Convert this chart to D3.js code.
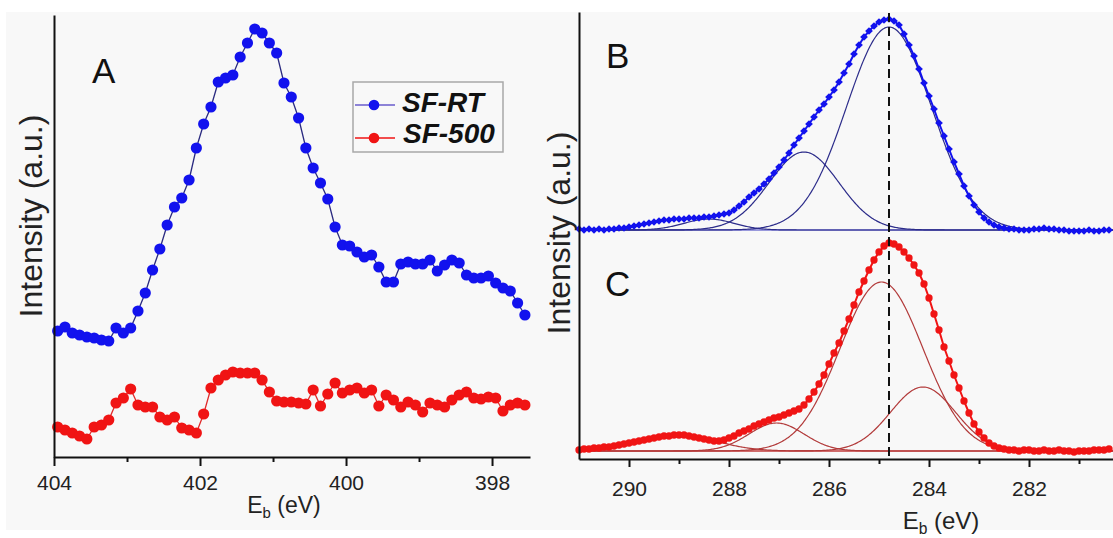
<!DOCTYPE html>
<html>
<head>
<meta charset="utf-8">
<script src="https://cdn.jsdelivr.net/npm/d3@7"></script>
<style>
    body { margin: 0; background: #fff; }
    svg { display: block; font-family: "Liberation Sans", Arial, sans-serif; }
</style>
</head>
<body>
<div class="xps"></div>
<script>
// ---- panel A : N 1s, one point every 0.1 eV from 403.95 eV ----
let nStart = 403.95, nStep = 0.1
let nSFRT = [126, 130, 124, 122, 120, 119, 117, 116, 129, 124, 129, 146, 164, 187, 208, 232, 250, 259, 277, 309,
    333, 350, 375, 379, 382, 400, 414, 428, 424, 414, 404, 374, 360, 339, 309, 289, 274, 258, 230, 212,
    211, 205, 200, 202, 190, 175, 175, 193, 195, 193, 193, 197, 186, 192, 197, 194, 182, 179, 179, 181,
    174, 169, 166, 154, 142]
let nSF500 = [30, 27, 24, 21, 18, 30, 32, 37, 54, 59, 68, 52, 50, 50, 40, 37, 40, 29, 27, 24,
    43, 69, 77, 82, 85, 84, 84, 84, 77, 65, 56, 55, 55, 54, 53, 67, 51, 63, 74, 64,
    67, 69, 64, 67, 51, 62, 57, 50, 55, 52, 45, 54, 52, 50, 57, 62, 65, 59, 58, 60,
    59, 46, 52, 54, 52]

// ---- panels B, C : C 1s, one point every 0.1 eV from 291.0 eV ----
let cStart = 291.0, cStep = 0.1
let cSFRT = [1, 0, 1, 0, 1, 0, 1, 1, 2, 2, 3, 4, 5, 6, 7, 8, 9, 10, 10, 11,
    11, 11, 12, 12, 12, 13, 13, 14, 15, 16, 17, 20, 24, 28, 33, 37, 41, 46, 51, 57,
    63, 70, 77, 85, 92, 99, 106, 113, 120, 126, 133, 140, 148, 157, 166, 176, 185, 193, 199, 204,
    208, 210, 211, 209, 205, 196, 185, 174, 161, 147, 134, 121, 107, 94, 81, 68, 56, 44, 34, 25,
    18, 12, 8, 5, 3, 2, 1, 1, 0, 0, 0, 1, 1, 2, 1, 1, 0, 0, -1, -1,
    -1, -1, 0, -1, -1, 0, 0]
let cSF500 = [1, 2, 2, 3, 3, 4, 4, 5, 6, 7, 8, 9, 10, 11, 12, 13, 14, 15, 15, 16,
    16, 16, 15, 14, 13, 12, 11, 10, 10, 11, 13, 15, 18, 20, 22, 25, 27, 29, 31, 33,
    34, 36, 38, 40, 42, 46, 52, 59, 67, 76, 87, 98, 108, 120, 132, 146, 159, 170, 181, 191,
    199, 205, 208, 207, 204, 199, 193, 186, 178, 167, 153, 137, 121, 104, 90, 76, 63, 50, 38, 27,
    19, 13, 8, 5, 3, 2, 1, 1, 0, 1, 1, 0, 0, 1, 0, 0, 1, 0, 0, -1,
    0, 0, 0, 1, 1, 1, 2]

// fitted components: centre (eV), height, sigma (eV)
let fitRTCenter = [288.4, 286.5, 284.8],
    fitRTHeight = [11, 78, 203],
    fitRTSigma = [0.5, 0.7, 0.85]
let fit500Center = [289.0, 287.05, 284.95, 284.12],
    fit500Height = [16, 28, 169, 64],
    fit500Sigma = [0.75, 0.55, 0.83, 0.65]
let refEnergy = 284.8

let ticksA = [404, 402, 400, 398], minorA = [403, 401, 399]
let ticksBC = [290, 288, 286, 284, 282], minorBC = [289, 287, 285, 283, 281]
let seriesNames = ["SF-RT", "SF-500"]

let blue = "#1212ee", red = "#f01414"
let width = 1113, height = 538

let svg = d3.select(".xps")
    .append("svg")
    .attr("width", width)
    .attr("height", height)
svg.append("rect")
    .attr("x", 6).attr("y", 12)
    .attr("width", width - 6).attr("height", 518)
    .attr("fill", "#f8f8f8")

//===================== panel A =====================
let xA = d3.scaleLinear().domain([404, 397.48]).range([54, 530])
let yA = d3.scaleLinear().domain([0, 442]).range([457, 15])
let nPoints = (arr) => arr.map((v, i) => [nStart - nStep * i, v])

let gA = svg.append("g")
let lineA = d3.line().x(d => xA(d[0])).y(d => yA(d[1]))
;[[nSF500, red, "#e02a2a"], [nSFRT, blue, "#2a2a80"]].forEach(([arr, col, lcol]) => {
    gA.append("path")
        .datum(nPoints(arr))
        .attr("d", lineA)
        .attr("fill", "none")
        .attr("stroke", lcol)
        .attr("stroke-width", 1.3)
    gA.append("g")
        .selectAll("circle")
        .data(nPoints(arr))
        .enter()
        .append("circle")
        .attr("cx", d => xA(d[0]))
        .attr("cy", d => yA(d[1]))
        .attr("r", 5.6)
        .attr("fill", col)
})

// axes
let axA = gA.append("g").attr("transform", "translate(0,457)")
axA.call(d3.axisBottom(xA).tickValues(ticksA).tickSize(9).tickSizeOuter(0).tickPadding(9).tickFormat(d3.format("d")))
axA.append("g").call(d3.axisBottom(xA).tickValues(minorA).tickSize(5).tickFormat(""))
    .select(".domain").remove()
gA.append("g").attr("transform", "translate(54,0)")
    .call(d3.axisLeft(yA).tickValues([]).tickSizeOuter(0))

// legend
let legend = gA.append("g")
legend.append("rect")
    .attr("x", 353).attr("y", 82).attr("width", 150).attr("height", 70)
    .attr("fill", "#f8f8f8").attr("stroke", "#a8a8a8").attr("stroke-width", 1.5)
seriesNames.forEach((name, i) => {
    let ly = 105 + 33 * i
    legend.append("line")
        .attr("x1", 355).attr("x2", 395).attr("y1", ly).attr("y2", ly)
        .attr("stroke", i == 0 ? "#6a5ccc" : red).attr("stroke-width", 1.5)
    legend.append("circle")
        .attr("cx", 374).attr("cy", ly).attr("r", 5.3)
        .attr("fill", i == 0 ? blue : red)
    legend.append("text")
        .attr("x", 402 + i).attr("y", ly + 7 - 2 * i)
        .attr("font-size", 28).attr("font-weight", "bold").attr("font-style", "italic")
        .attr("fill", "#111")
        .text(name)
})

//===================== panels B / C =====================
let xBC = d3.scaleLinear().domain([291, 280.3]).range([579, 1114])
let yB = d3.scaleLinear().domain([0, 218]).range([230, 12])
let yC = d3.scaleLinear().domain([0, 218]).range([451, 233])
let yFrame = d3.scaleLinear().domain([0, 1]).range([459, 12])
let cPoints = (arr) => arr.map((v, i) => [cStart - cStep * i, v])
let fitE = d3.range(291, 280.29, -0.02)
function gauss(e, c, h, s) {
    return h * Math.exp(-(e - c) * (e - c) / (2 * s * s))
}

let gBC = svg.append("g")
function drawPanel(data, y, centers, heights, sigmas, col, fitCol, baseCol, marker) {
    let g = gBC.append("g")
    // baseline
    g.append("line")
        .attr("x1", xBC(291)).attr("x2", xBC(280.3))
        .attr("y1", y(0)).attr("y2", y(0))
        .attr("stroke", baseCol).attr("stroke-width", 1.2)
    // fitted components
    centers.forEach((c, k) => {
        g.append("path")
            .datum(fitE.map(e => [e, gauss(e, c, heights[k], sigmas[k])]))
            .attr("d", d3.line().x(d => xBC(d[0])).y(d => y(d[1])))
            .attr("fill", "none")
            .attr("stroke", fitCol)
            .attr("stroke-width", 1.2)
    })
    // measured points
    g.append("path")
        .datum(cPoints(data))
        .attr("d", d3.line().x(d => xBC(d[0])).y(d => y(d[1])))
        .attr("fill", "none")
        .attr("stroke", col)
        .attr("stroke-width", 2)
    let pts = g.append("g")
        .selectAll("path")
        .data(cPoints(data))
        .enter()
        .append("path")
        .attr("fill", col)
    if (marker == "square") {
        pts.attr("d", d3.symbol().type(d3.symbolSquare).size(30))
            .attr("transform", d => `translate(${xBC(d[0])},${y(d[1])}) rotate(45)`)
    } else {
        pts.attr("d", d3.symbol().type(d3.symbolCircle).size(42))
            .attr("transform", d => `translate(${xBC(d[0])},${y(d[1])})`)
    }
}
drawPanel(cSFRT, yB, fitRTCenter, fitRTHeight, fitRTSigma, blue, "#2c2c8a", "#3a3ac0", "square")
drawPanel(cSF500, yC, fit500Center, fit500Height, fit500Sigma, red, "#b23a3a", "#e04040", "circle")

// reference line
gBC.append("line")
    .attr("x1", xBC(refEnergy)).attr("x2", xBC(refEnergy))
    .attr("y1", 13).attr("y2", 459)
    .attr("stroke", "#111").attr("stroke-width", 2)
    .attr("stroke-dasharray", "9,5")

let axBC = gBC.append("g").attr("transform", "translate(0,459)")
axBC.call(d3.axisBottom(xBC).tickValues(ticksBC).tickSize(8).tickSizeOuter(0).tickPadding(14).tickFormat(d3.format("d")))
axBC.append("g").call(d3.axisBottom(xBC).tickValues(minorBC).tickSize(5).tickFormat(""))
    .select(".domain").remove()
gBC.append("g").attr("transform", "translate(579,0)")
    .call(d3.axisLeft(yFrame).tickValues([]).tickSizeOuter(0))

// axis styling
svg.selectAll(".domain").attr("stroke", "#111").attr("stroke-width", 2)
svg.selectAll(".tick line").attr("stroke", "#111").attr("stroke-width", 2)
svg.selectAll(".tick text")
    .attr("font-size", 21)
    .attr("font-family", "Liberation Sans, Arial, sans-serif")
    .attr("fill", "#222")

//===================== titles & letters =====================
function xTitle(x, y, size) {
    let t = svg.append("text")
        .attr("x", x).attr("y", y)
        .attr("text-anchor", "middle")
        .attr("font-size", size)
        .attr("fill", "#222")
    t.append("tspan").text("E")
    t.append("tspan").attr("font-size", size * 0.65).attr("dy", 5).text("b")
    t.append("tspan").attr("dy", -5).text(" (eV)")
}
xTitle(284, 513, 23)
xTitle(941, 529, 24)

;[[42, 216], [570, 233]].forEach(([x, y]) => {
    svg.append("text")
        .attr("transform", `translate(${x},${y}) rotate(-90)`)
        .attr("text-anchor", "middle")
        .attr("font-size", 32)
        .attr("fill", "#222")
        .text("Intensity (a.u.)")
})

;[["A", 92, 83], ["B", 606, 68], ["C", 605, 296]].forEach(([s, x, y]) => {
    svg.append("text")
        .attr("x", x).attr("y", y)
        .attr("font-size", 35)
        .attr("fill", "#111")
        .text(s)
})
</script>
</body>
</html>
